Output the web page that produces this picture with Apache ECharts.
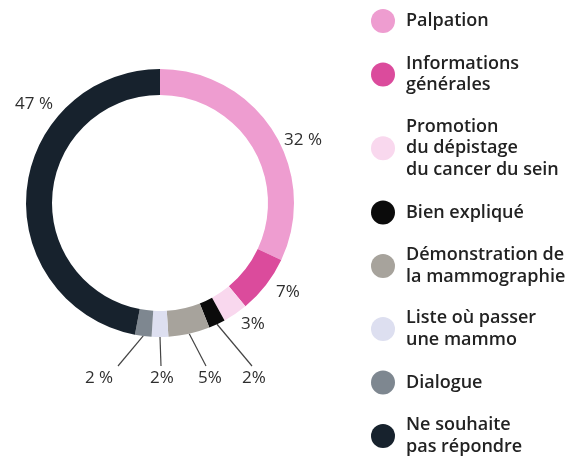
<!DOCTYPE html>
<html>
<head>
<meta charset="utf-8">
<script src="https://cdn.jsdelivr.net/npm/echarts@6/dist/echarts.min.js"></script>
<style>
  html, body { margin: 0; padding: 0; background: #fff; }
  #chart { width: 586px; height: 458px; }
</style>
</head>
<body>
<div id="chart"></div>
<script>
const categories = [
  'Palpation',
  'Informations\ngénérales',
  'Promotion\ndu dépistage\ndu cancer du sein',
  'Bien expliqué',
  'Démonstration de\nla mammographie',
  'Liste où passer\nune mammo',
  'Dialogue',
  'Ne souhaite\npas répondre',
];
const values = [32, 7, 3, 2, 5, 2, 2, 47];
const valueLabels = ['32 %', '7%', '3%', '2%', '5%', '2%', '2 %', '47 %'];

const colors = ['#ee9dd0', '#db4b9c', '#f9d8ee', '#0b0b0b', '#a7a39c', '#dddff0', '#7e8790', '#17222d'];
// where each percentage sits; lineEnd = horizontal shift of the leader line end (null = no line)
const labelSpots = [
  { x: 303, y: 140, lineEnd: null },
  { x: 288, y: 292, lineEnd: null },
  { x: 253, y: 324, lineEnd: null },
  { x: 254, y: 378, lineEnd: -2 },
  { x: 210, y: 378, lineEnd: -4 },
  { x: 162, y: 378, lineEnd: -1 },
  { x: 99, y: 378, lineEnd: 19 },
  { x: 34, y: 104, lineEnd: null },
];

const font = '"Open Sans", sans-serif';

const chart = echarts.init(document.getElementById('chart'));
chart.setOption({
  animation: false,
  legend: {
    orient: 'vertical',
    left: 371,
    top: 9,
    height: 500,
    padding: 0,
    icon: 'circle',
    itemWidth: 24,
    itemHeight: 24,
    itemGap: 20,
    selectedMode: false,
    textStyle: {
      fontFamily: font,
      fontSize: 18,
      fontWeight: 600,
      lineHeight: 21.5,
      color: '#222',
      padding: [0, 0, 0, 6],
    },
    data: categories,
  },
  series: [
    {
      type: 'pie',
      center: [160, 203],
      radius: [108, 134],
      startAngle: 90,
      clockwise: true,
      silent: true,
      label: {
        show: true,
        position: 'inside',
        fontFamily: font,
        fontSize: 17,
        color: '#2e2e2e',
        formatter: (p) => valueLabels[p.dataIndex],
      },
      labelLine: {
        show: true,
        length: 20,
        length2: 0,
        lineStyle: { color: '#444', width: 1.2 },
      },
      labelLayout: (p) => {
        const s = labelSpots[p.dataIndex];
        const out = { x: s.x, y: s.y, align: 'center', verticalAlign: 'middle' };
        if (s.lineEnd !== null && p.labelLinePoints) {
          out.labelLinePoints = [p.labelLinePoints[0], [s.x + s.lineEnd, s.y - 12]];
        }
        return out;
      },
      data: categories.map((name, i) => ({
        name,
        value: values[i],
        itemStyle: { color: colors[i] },
        label: { position: labelSpots[i].lineEnd === null ? 'inside' : 'outside' },
        labelLine: { show: labelSpots[i].lineEnd !== null },
      })),
    },
  ],
});
</script>
</body>
</html>
